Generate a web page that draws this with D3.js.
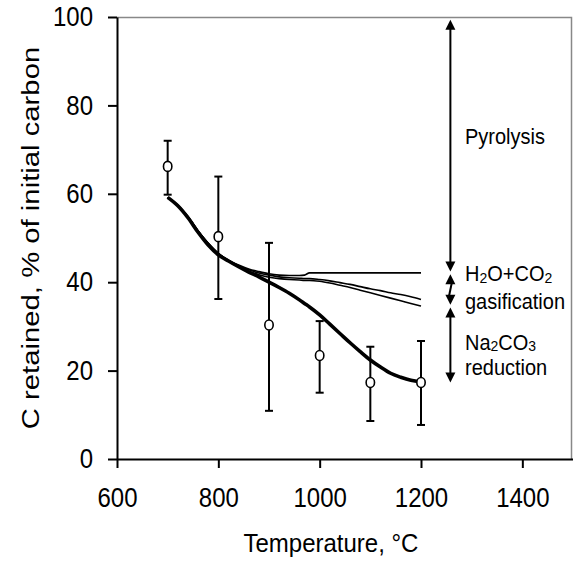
<!DOCTYPE html>
<html>
<head>
<meta charset="utf-8">
<script src="https://cdn.jsdelivr.net/npm/d3@7"></script>
<style>
  html, body { margin: 0; padding: 0; background: #fff; }
  svg { display: block; font-family: Arial, "Liberation Sans", sans-serif; }
</style>
</head>
<body>
<svg id="chart" width="573" height="566"></svg>
<script>
// Axis ticks
const xTicks = [600, 800, 1000, 1200, 1400];
const yTicks = [0, 20, 40, 60, 80, 100];

// Measured carbon retained (circles with error bars)
const measTemp = [700, 800, 900, 1000, 1100, 1200];
const measValue = [66.2, 50.3, 30.3, 23.4, 17.3, 17.3];
const measLow = [59.8, 36.2, 10.9, 15.0, 8.6, 7.7];
const measHigh = [72.0, 63.9, 48.9, 31.2, 25.4, 26.7];

// Model curves: temperature grid shared by all curves
const curveTemp = [700, 720, 740, 760, 780, 800, 820, 840, 860, 880, 900, 920, 940, 960, 970, 980, 1000, 1020, 1040, 1060, 1080, 1100, 1120, 1140, 1160, 1180, 1200];
// Pyrolysis only (flat)
const curvePyro = [59.2, 57.4, 54.8, 51.6, 48.8, 46.5, 45.0, 43.9, 43.0, 42.4, 41.9, 41.6, 41.5, 41.5, 41.6, 42.1, 42.1, 42.1, 42.1, 42.1, 42.1, 42.1, 42.1, 42.1, 42.1, 42.1, 42.1];
// Pyrolysis + gasification (two variants)
const curveGasA = [59.2, 57.4, 54.8, 51.6, 48.8, 46.5, 44.9, 43.7, 42.8, 42.1, 41.6, 41.2, 41.0, 40.9, 40.8, 40.8, 40.6, 40.3, 39.9, 39.5, 39.0, 38.5, 38.1, 37.6, 37.2, 36.7, 36.1];
const curveGasB = [59.2, 57.4, 54.8, 51.6, 48.8, 46.5, 44.8, 43.5, 42.5, 41.7, 41.1, 40.8, 40.6, 40.5, 40.4, 40.4, 40.2, 39.8, 39.3, 38.8, 38.2, 37.6, 37.0, 36.4, 35.8, 35.2, 34.6];
// Pyrolysis + gasification + Na2CO3 reduction
const curveTotal = [59.2, 57.3, 54.6, 51.3, 48.4, 46.2, 44.8, 43.5, 42.3, 41.2, 40.0, 38.8, 37.5, 36.0, 35.2, 34.4, 32.6, 30.5, 28.4, 26.3, 24.3, 22.4, 20.8, 19.4, 18.5, 17.8, 17.4];

// Contribution arrows at T = 1258 °C
const arrowTemp = 1258;
const arrowFrom = [99.4, 41.8, 34.3];
const arrowTo = [42.4, 34.9, 17.3];

const svg = d3.select("#chart");
const plotLeft = 117, plotRight = 573, plotTop = 17, plotBottom = 459;
const STRETCH = 1.14;   // glyphs are drawn slightly taller than wide

const x = d3.scaleLinear().domain([600, 1500]).range([plotLeft, plotRight]);
const y = d3.scaleLinear().domain([0, 100]).range([plotBottom, plotTop]);

// stretch a text element vertically about its own baseline y0
function stretchY(sel, y0, k) {
  sel.attr("transform", `translate(0,${y0}) scale(1,${k}) translate(0,${-y0})`);
}

// Frame: grey top/right borders
svg.append("path")
  .attr("d", `M${plotLeft},${plotTop + 0.5}H${plotRight - 1.5}V${plotBottom}`)
  .attr("fill", "none").attr("stroke", "#888").attr("stroke-width", 1.5);

// Axes
const yAxis = svg.append("g")
  .attr("transform", `translate(${plotLeft},0)`)
  .call(d3.axisLeft(y).tickValues(yTicks).tickFormat(d3.format("d"))
    .tickSize(9).tickPadding(15).tickSizeOuter(0));
const xAxis = svg.append("g")
  .attr("transform", `translate(0,${plotBottom})`)
  .call(d3.axisBottom(x).tickValues(xTicks).tickFormat(d3.format("d"))
    .tickSize(9).tickPadding(16).tickSizeOuter(0));

[xAxis, yAxis].forEach(g => {
  g.select(".domain").attr("stroke", "#000").attr("stroke-width", 2);
  g.selectAll(".tick line").attr("stroke", "#000").attr("stroke-width", 2);
  g.selectAll(".tick text").attr("fill", "#000")
    .style("font-size", "24px").style("font-family", "Arial, 'Liberation Sans', sans-serif")
    .attr("transform", `scale(1,${STRETCH})`);
});

// Axis titles
const xTitle = svg.append("text")
  .attr("x", 331).attr("y", 552)
  .attr("text-anchor", "middle")
  .style("font-size", "24px")
  .text("Temperature, °C");
stretchY(xTitle, 552, 1.05);

svg.append("text")
  .attr("transform", `translate(31,${(plotTop + plotBottom) / 2}) rotate(-90) scale(1.22,1)`)
  .attr("text-anchor", "middle")
  .attr("dy", "0.35em")
  .style("font-size", "24px")
  .text("C retained, % of initial carbon");

// Curves
const line = d3.line().x(d => x(d[0])).y(d => y(d[1])).curve(d3.curveMonotoneX);
const thin = [curvePyro, curveGasA, curveGasB];
thin.forEach(vals => {
  svg.append("path")
    .datum(curveTemp.map((t, i) => [t, vals[i]]))
    .attr("d", line)
    .attr("fill", "none").attr("stroke", "#000").attr("stroke-width", 1.6);
});
svg.append("path")
  .datum(curveTemp.map((t, i) => [t, curveTotal[i]]))
  .attr("d", line)
  .attr("fill", "none").attr("stroke", "#000").attr("stroke-width", 3.6)
  .attr("stroke-linejoin", "round");

// Error bars and measured points
const meas = measTemp.map((t, i) => ({ t, v: measValue[i], lo: measLow[i], hi: measHigh[i] }));
const eb = svg.append("g").attr("stroke", "#000").attr("stroke-width", 2);
meas.forEach(d => {
  eb.append("line").attr("x1", x(d.t)).attr("x2", x(d.t)).attr("y1", y(d.lo)).attr("y2", y(d.hi));
  [d.lo, d.hi].forEach(v => {
    eb.append("line").attr("x1", x(d.t) - 4).attr("x2", x(d.t) + 4).attr("y1", y(v)).attr("y2", y(v));
  });
});
svg.append("g").selectAll("ellipse").data(meas).join("ellipse")
  .attr("cx", d => x(d.t)).attr("cy", d => y(d.v))
  .attr("rx", 4.2).attr("ry", 5)
  .attr("fill", "#fff").attr("stroke", "#000").attr("stroke-width", 1.6);

// Arrows
const ax = x(arrowTemp);
function head(xp, yp, dir) {
  // dir = -1 points up, +1 points down
  const h = 10, w = 5;
  return `M${xp},${yp}L${xp - w},${yp - dir * h}L${xp + w},${yp - dir * h}Z`;
}
const ag = svg.append("g");
arrowFrom.forEach((v0, i) => {
  const y0 = y(v0), y1 = y(arrowTo[i]);
  const shift = i === 1 ? 1.5 : 0;
  ag.append("line")
    .attr("x1", ax + shift).attr("y1", y0 + 8)
    .attr("x2", ax - shift).attr("y2", y1 - 8)
    .attr("stroke", "#000").attr("stroke-width", 2);
  ag.append("path").attr("d", head(ax, y0, -1)).attr("fill", "#000");
  ag.append("path").attr("d", head(ax, y1, 1)).attr("fill", "#000");
});

// Annotation labels
const lab = svg.append("g").style("font-size", "20px").attr("fill", "#000");
const ANN = 1.1;
stretchY(lab.append("text").attr("x", 465).attr("y", 144).text("Pyrolysis"), 144, ANN);
const t1 = lab.append("text").attr("x", 465).attr("y", 281);
t1.append("tspan").text("H");
t1.append("tspan").text("2").style("font-size", "14px").attr("dy", 2);
t1.append("tspan").text("O+CO").attr("dy", -2);
t1.append("tspan").text("2").style("font-size", "14px").attr("dy", 2);
stretchY(t1, 281, ANN);
stretchY(lab.append("text").attr("x", 465).attr("y", 309).text("gasification"), 309, ANN);
const t2 = lab.append("text").attr("x", 465).attr("y", 350);
t2.append("tspan").text("Na");
t2.append("tspan").text("2").style("font-size", "14px").attr("dy", 1);
t2.append("tspan").text("CO").attr("dy", -1);
t2.append("tspan").text("3").style("font-size", "14px").attr("dy", 1);
stretchY(t2, 350, ANN);
stretchY(lab.append("text").attr("x", 465).attr("y", 375).text("reduction"), 375, ANN);
</script>
</body>
</html>
